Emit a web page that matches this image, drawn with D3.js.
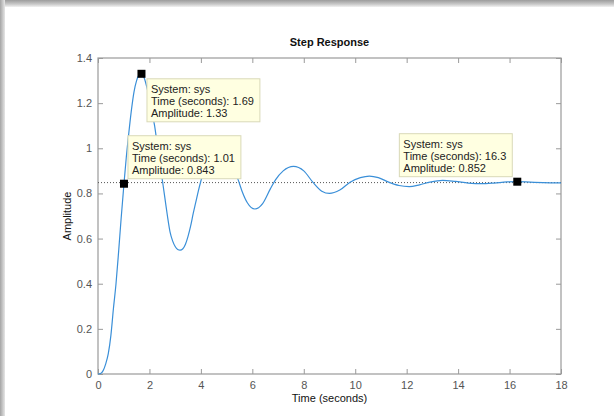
<!DOCTYPE html>
<html>
<head>
<meta charset="utf-8">
<script src="https://cdn.jsdelivr.net/npm/d3@7"></script>
<style>
  html, body { margin: 0; padding: 0; background: #fff; }
  svg { display: block; font-family: "Liberation Sans", Arial, sans-serif; }
</style>
</head>
<body>
<svg id="chart" width="614" height="416"></svg>
<script>
// step response samples
const timeValues = [0, 0.1, 0.2, 0.3, 0.4, 0.5, 0.6, 0.7, 0.8, 0.9, 1.01, 1.1, 1.2, 1.3, 1.4, 1.5, 1.6, 1.69,
  1.8, 1.9, 2.0, 2.1, 2.2, 2.3, 2.4, 2.5, 2.6, 2.7, 2.8, 2.9, 3.0, 3.1, 3.19, 3.3, 3.4, 3.5, 3.6, 3.7, 3.8, 3.9,
  4.0, 4.2, 4.4, 4.65, 4.9, 5.1, 5.3, 5.45, 5.6, 5.8, 6.1, 6.4, 6.7, 6.9, 7.2, 7.6, 8.0, 8.35, 8.7, 9.0, 9.4,
  9.8, 10.2, 10.55, 10.9, 11.3, 11.7, 12.1, 12.5, 12.9, 13.4, 13.9, 14.4, 14.9, 15.4, 15.9, 16.3, 16.8, 17.3, 17.8, 18];
const amplitudeValues = [0, 0.002, 0.015, 0.045, 0.09, 0.17, 0.29, 0.40, 0.54, 0.69, 0.843, 0.96, 1.07, 1.17, 1.25, 1.30, 1.325, 1.33,
  1.31, 1.27, 1.22, 1.16, 1.10, 1.02, 0.94, 0.86, 0.78, 0.70, 0.63, 0.59, 0.565, 0.552, 0.549, 0.555, 0.575, 0.61, 0.655, 0.71, 0.76, 0.81,
  0.855, 0.93, 0.98, 1.0, 0.98, 0.94, 0.90, 0.86, 0.81, 0.76, 0.731, 0.755, 0.82, 0.86, 0.90, 0.92, 0.90, 0.85, 0.81, 0.80, 0.815,
  0.85, 0.87, 0.877, 0.87, 0.85, 0.835, 0.83, 0.838, 0.85, 0.858, 0.853, 0.846, 0.843, 0.846, 0.851, 0.852, 0.85, 0.848, 0.847, 0.847];
const steadyState = 0.848;

// data tips
const tipTimes = [1.69, 1.01, 16.3];
const tipAmplitudes = [1.33, 0.843, 0.852];
const tipTimeLabels = ["1.69", "1.01", "16.3"];
const tipAmpLabels = ["1.33", "0.843", "0.852"];
const tipPlacement = ["below-right", "above-right", "above-left"];

const xTicks = [0, 2, 4, 6, 8, 10, 12, 14, 16, 18];
const yTicks = [0, 0.2, 0.4, 0.6, 0.8, 1, 1.2, 1.4];

const svg = d3.select("#chart");
const W = 614, H = 416;
const margin = { top: 58, right: 53, bottom: 42, left: 98 },
    width = W - margin.left - margin.right,
    height = H - margin.top - margin.bottom;

// window shadow frame
const defs = svg.append("defs");
const gTop = defs.append("linearGradient").attr("id", "shTop").attr("x1", 0).attr("y1", 0).attr("x2", 0).attr("y2", 1);
gTop.append("stop").attr("offset", "0%").attr("stop-color", "#9c9c9c");
gTop.append("stop").attr("offset", "60%").attr("stop-color", "#c9c9c9");
gTop.append("stop").attr("offset", "100%").attr("stop-color", "#f2f2f2");
const gLeft = defs.append("linearGradient").attr("id", "shLeft").attr("x1", 0).attr("y1", 0).attr("x2", 1).attr("y2", 0);
gLeft.append("stop").attr("offset", "0%").attr("stop-color", "#a4a4a4");
gLeft.append("stop").attr("offset", "100%").attr("stop-color", "#e6e6e6");
svg.append("rect").attr("width", W).attr("height", H).attr("fill", "#fff");
svg.append("rect").attr("x", 0).attr("y", 0).attr("width", W).attr("height", 7).attr("fill", "url(#shTop)");
svg.append("rect").attr("x", 0).attr("y", 0).attr("width", 5).attr("height", H).attr("fill", "url(#shLeft)");

const g = svg.append("g").attr("transform", `translate(${margin.left},${margin.top})`);

const x = d3.scaleLinear().domain([0, 18]).range([0, width]);
const y = d3.scaleLinear().domain([0, 1.4]).range([height, 0]);

const axisColor = "#9a9a9a", labelColor = "#555";

// axes with inward ticks on all four sides
const styleAxis = sel => {
  sel.select(".domain").remove();
  sel.selectAll(".tick line").attr("stroke", axisColor);
  sel.selectAll(".tick text").attr("fill", labelColor).style("font-size", "11px");
};
g.append("g").attr("transform", `translate(0,${height})`)
  .call(d3.axisBottom(x).tickValues(xTicks).tickSizeInner(-5).tickSizeOuter(0).tickPadding(7).tickFormat(d3.format("d")))
  .call(styleAxis);
g.append("g")
  .call(d3.axisTop(x).tickValues(xTicks).tickSizeInner(-5).tickSizeOuter(0).tickFormat(""))
  .call(styleAxis);
g.append("g")
  .call(d3.axisLeft(y).tickValues(yTicks).tickSizeInner(-5).tickSizeOuter(0).tickPadding(6).tickFormat(d => d3.format("~g")(d)))
  .call(styleAxis);
g.append("g").attr("transform", `translate(${width},0)`)
  .call(d3.axisRight(y).tickValues(yTicks).tickSizeInner(-5).tickSizeOuter(0).tickFormat(""))
  .call(styleAxis);
g.append("rect").attr("width", width).attr("height", height)
  .attr("fill", "none").attr("stroke", axisColor).attr("stroke-width", 1.2);

// steady-state line
g.append("line")
  .attr("x1", x(0)).attr("x2", x(18))
  .attr("y1", y(steadyState)).attr("y2", y(steadyState))
  .attr("stroke", "#555").attr("stroke-width", 1).attr("stroke-dasharray", "1,2");

// response curve
const pts = timeValues.map((t, i) => [t, amplitudeValues[i]]);
g.append("path").datum(pts)
  .attr("fill", "none").attr("stroke", "#3a8fd8").attr("stroke-width", 1.2)
  .attr("d", d3.line().x(d => x(d[0])).y(d => y(d[1])).curve(d3.curveMonotoneX));

// data tips
tipTimes.forEach((t, i) => {
  const mx = x(t), my = y(tipAmplitudes[i]);
  const tg = g.append("g");
  const box = tg.append("rect").attr("fill", "#ffffe1").attr("stroke", "#d9d9b8").attr("stroke-width", 1);
  const lines = ["System: sys", `Time (seconds): ${tipTimeLabels[i]}`, `Amplitude: ${tipAmpLabels[i]}`];
  const txt = tg.selectAll("text").data(lines).enter().append("text")
    .attr("x", 4).attr("y", (d, j) => 14 + j * 12)
    .attr("fill", "#222").style("font-size", "11px").text(d => d);
  let bw = 0;
  txt.each(function() { bw = Math.max(bw, this.getComputedTextLength()); });
  bw += 10;
  const bh = 43;
  box.attr("width", bw).attr("height", bh);
  let bx = mx + 5.5, by = my + 5;
  if (tipPlacement[i] === "above-right") { bx = mx + 4; by = my - 5 - bh; }
  if (tipPlacement[i] === "above-left") { bx = mx - 5 - bw; by = my - 5 - bh; }
  tg.attr("transform", `translate(${bx},${by})`);
  g.append("rect").attr("x", mx - 4).attr("y", my - 4).attr("width", 8).attr("height", 8).attr("fill", "#000");
});

// titles
svg.append("text").attr("x", margin.left + width / 2).attr("y", 46)
  .attr("text-anchor", "middle").style("font-size", "11px").style("font-weight", "bold").attr("fill", "#111")
  .text("Step Response");
svg.append("text").attr("x", margin.left + width / 2).attr("y", 402)
  .attr("text-anchor", "middle").style("font-size", "11px").attr("fill", "#111")
  .text("Time (seconds)");
svg.append("text").attr("transform", `translate(71,${margin.top + height / 2}) rotate(-90)`)
  .attr("text-anchor", "middle").style("font-size", "11px").attr("fill", "#111")
  .text("Amplitude");
</script>
</body>
</html>
